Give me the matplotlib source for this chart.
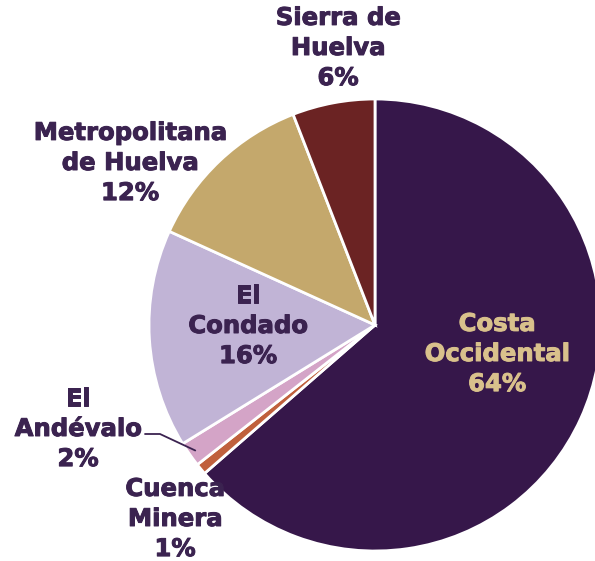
import matplotlib
matplotlib.use('Agg')
import matplotlib.pyplot as plt
import matplotlib.patheffects as pe
import numpy as np

# comarcas de Huelva, clockwise from 12 o'clock
categories = ['Costa\nOccidental', 'Cuenca\nMinera', 'El\nAndévalo',
              'El\nCondado', 'Metropolitana\nde Huelva', 'Sierra de\nHuelva']
values = [63.6, 0.8, 1.8, 15.6, 12.3, 5.9]
colors = ['#36174a', '#c0603c', '#d4a4c7', '#c1b4d6', '#c4a86c', '#6b2323']

W, H, DPI = 595, 561, 100
CX, CY, R = 375, 325, 226  # pie centre and radius in pixels

TXT = '#3b2350'


def px(x, y):
    # pixel position -> data coords (pie radius = 1)
    return (x - CX) / R, (CY - y) / R


fig = plt.figure(figsize=(W / DPI, H / DPI), dpi=DPI)
ax = fig.add_axes([0, 0, 1, 1])

wedges, _ = ax.pie(values, colors=colors, startangle=90, counterclock=False,
                   radius=1, wedgeprops=dict(edgecolor='white', linewidth=2))

# pie() resets the limits, so set them afterwards
ax.set_xlim(-CX / R, (W - CX) / R)
ax.set_ylim(-(H - CY) / R, CY / R)
ax.set_aspect('equal')
ax.axis('off')

labels = [f'{c}\n{round(v)}%' for c, v in zip(categories, values)]
label_pos = [(497, 354), (175, 519), (78, 429), (248, 326), (130, 163), (338, 48)]
label_col = ['#d9c18c', TXT, TXT, TXT, TXT, TXT]

for lab, (x, y), col in zip(labels, label_pos, label_col):
    tx, ty = px(x, y)
    ax.text(tx, ty, lab, ha='center', va='center', color=col, fontsize=17.5,
            fontweight='bold', family='DejaVu Sans', linespacing=1.32,
            path_effects=[pe.withStroke(linewidth=0.7, foreground=col)])

# leader line for El Andévalo
w = wedges[2]
mid = np.deg2rad((w.theta1 + w.theta2) / 2)
x0, y0 = px(145, 434)
x1, y1 = px(160, 434)
ax.plot([x0, x1, 0.97 * np.cos(mid)], [y1, y1, 0.97 * np.sin(mid)],
        color=TXT, lw=1.3, solid_capstyle='round')

fig.savefig('out.png', dpi=DPI)
